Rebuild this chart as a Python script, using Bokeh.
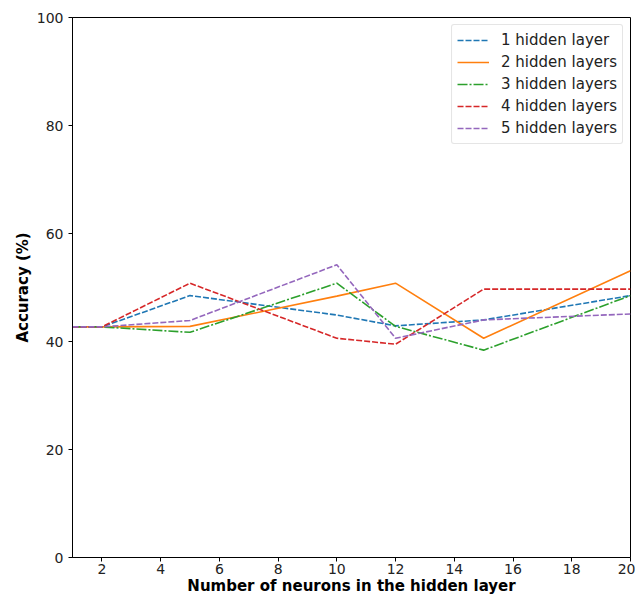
from bokeh.plotting import figure
from bokeh.models import Range1d, Legend, LegendItem, FixedTicker
from bokeh.embed import file_html
from bokeh.resources import INLINE

neurons = [1, 2, 5, 10, 12, 15, 20]
layer1 = [42.7, 42.7, 48.5, 44.9, 42.9, 44.0, 48.5]
layer2 = [42.7, 42.7, 42.8, 48.4, 50.8, 40.6, 53.1]
layer3 = [42.7, 42.7, 41.7, 50.8, 42.8, 38.4, 48.5]
layer4 = [42.7, 42.7, 50.8, 40.6, 39.5, 49.7, 49.7]
layer5 = [42.7, 42.7, 43.9, 54.2, 40.6, 44.0, 45.1]
labels = ["1 hidden layer", "2 hidden layers", "3 hidden layers", "4 hidden layers", "5 hidden layers"]
x_ticks = [2, 4, 6, 8, 10, 12, 14, 16, 18, 20]
y_ticks = [0, 20, 40, 60, 80, 100]

FONT = "DejaVu Sans"

p = figure(width=635, height=597, output_backend="svg", toolbar_location=None,
           x_range=Range1d(1, 20), y_range=Range1d(0, 100),
           min_border_left=72, min_border_right=5, min_border_top=17, min_border_bottom=39)
p.grid.visible = False
p.outline_line_color = "black"
p.outline_line_alpha = 1.0
p.outline_line_width = 1
p.background_fill_color = "white"
p.border_fill_color = "white"

for ax in (p.xaxis[0], p.yaxis[0]):
    ax.axis_line_color = "black"
    ax.major_tick_line_color = "black"
    ax.minor_tick_line_color = None
    ax.major_tick_out = 4
    ax.major_tick_in = 0
    ax.major_label_text_font = FONT
    ax.major_label_text_font_size = "14px"
    ax.major_label_text_color = "#222222"
    ax.axis_label_text_font = FONT
    ax.axis_label_text_font_size = "15px"
    ax.axis_label_text_font_style = "bold"
    ax.axis_label_text_color = "black"

p.xaxis.ticker = FixedTicker(ticks=x_ticks)
p.yaxis.ticker = FixedTicker(ticks=y_ticks)
p.xaxis.axis_label = "Number of neurons in the hidden layer"
p.yaxis.axis_label = "Accuracy (%)"
p.xaxis.axis_label_standoff = 0
p.yaxis.axis_label_standoff = 2
p.xaxis.major_label_standoff = 2
p.yaxis.major_label_standoff = 5

series = [layer1, layer2, layer3, layer4, layer5]
colors = ["#1f77b4", "#ff7f0e", "#2ca02c", "#d62728", "#9467bd"]
dashes = ["6 2", "solid", "10 2 2 2", "6 2", "6 2"]

items = []
for ys, c, d, lab in zip(series, colors, dashes, labels):
    r = p.line(neurons, ys, line_color=c, line_dash=d, line_width=1.6)
    items.append(LegendItem(label=lab, renderers=[r]))

legend = Legend(items=items, location="top_right")
legend.label_text_font = FONT
legend.label_text_font_size = "15px"
legend.label_text_color = "#222222"
legend.border_line_color = "#cccccc"
legend.border_line_width = 1
legend.border_radius = 3
legend.background_fill_alpha = 0.8
legend.glyph_width = 32
legend.label_standoff = 12
legend.spacing = 2
legend.padding = 5
legend.margin = 7
p.add_layout(legend)

open("out.html", "w").write(file_html(p, INLINE))
